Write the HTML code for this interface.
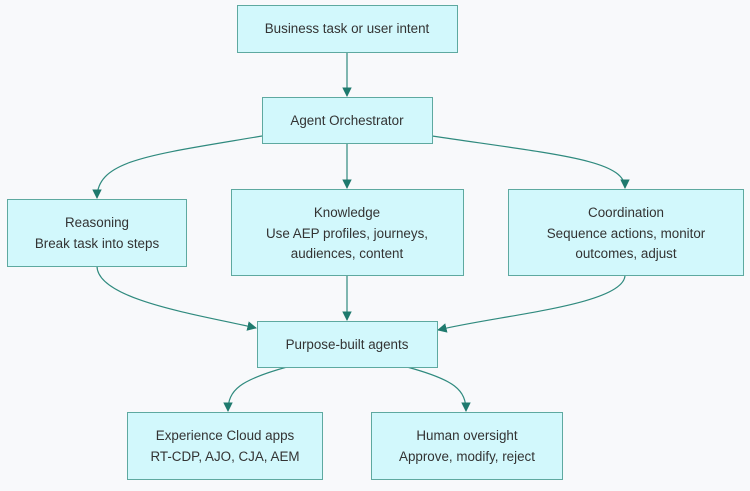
<!DOCTYPE html>
<html><head><meta charset="utf-8"><style>
html,body{margin:0;padding:0;background:#f8f9fb;}
svg text{font-family:"Liberation Sans",sans-serif;font-size:13.4px;fill:#333;text-anchor:middle;}
</style></head><body>
<svg width="750" height="486" viewBox="0 0 750 486" xmlns="http://www.w3.org/2000/svg">
<defs><marker id="a" viewBox="0 0 10 10" refX="9" refY="5" markerWidth="8" markerHeight="8" orient="auto"><path d="M0,0L10,5L0,10z" fill="#1f7a6e"/></marker></defs>
<rect width="750" height="486" fill="#f8f9fb"/>
<g fill="none" stroke="#2f8a7e" stroke-width="1.2" marker-end="url(#a)">
<path d="M347,52V96"/>
<path d="M262,136C150,155 97,160 97,198"/>
<path d="M347,143V188"/>
<path d="M432,136C560,155 625,160 625,188"/>
<path d="M97,266C97,300 200,315 256,328"/>
<path d="M347,275V320"/>
<path d="M625,275C625,305 500,315 438,330"/>
<path d="M287,367C240,380 228,390 228,411"/>
<path d="M407,367C455,380 466,390 466,411"/>
</g>
<g fill="#d2f8fc" stroke="#5ea9a0" stroke-width="1">
<rect x="237.5" y="5.5" width="220" height="47"/>
<rect x="262.5" y="97.5" width="170" height="46"/>
<rect x="7.5" y="199.5" width="179" height="67"/>
<rect x="231.5" y="189.5" width="232" height="86"/>
<rect x="508.5" y="189.5" width="235" height="86"/>
<rect x="257.5" y="321.5" width="180" height="46"/>
<rect x="127.5" y="412.5" width="195" height="67"/>
<rect x="371.5" y="412.5" width="191" height="67"/>
</g>
<text x="347" y="33">Business task or user intent</text>
<text x="347" y="125">Agent Orchestrator</text>
<text x="97" y="227">Reasoning</text>
<text x="97" y="248">Break task into steps</text>
<text x="347" y="217">Knowledge</text>
<text x="347" y="238">Use AEP profiles, journeys,</text>
<text x="347" y="258">audiences, content</text>
<text x="626" y="217">Coordination</text>
<text x="626" y="238">Sequence actions, monitor</text>
<text x="626" y="258">outcomes, adjust</text>
<text x="347" y="349">Purpose-built agents</text>
<text x="225" y="440">Experience Cloud apps</text>
<text x="225" y="461">RT-CDP, AJO, CJA, AEM</text>
<text x="467" y="440">Human oversight</text>
<text x="467" y="461">Approve, modify, reject</text>
</svg>
</body></html>
